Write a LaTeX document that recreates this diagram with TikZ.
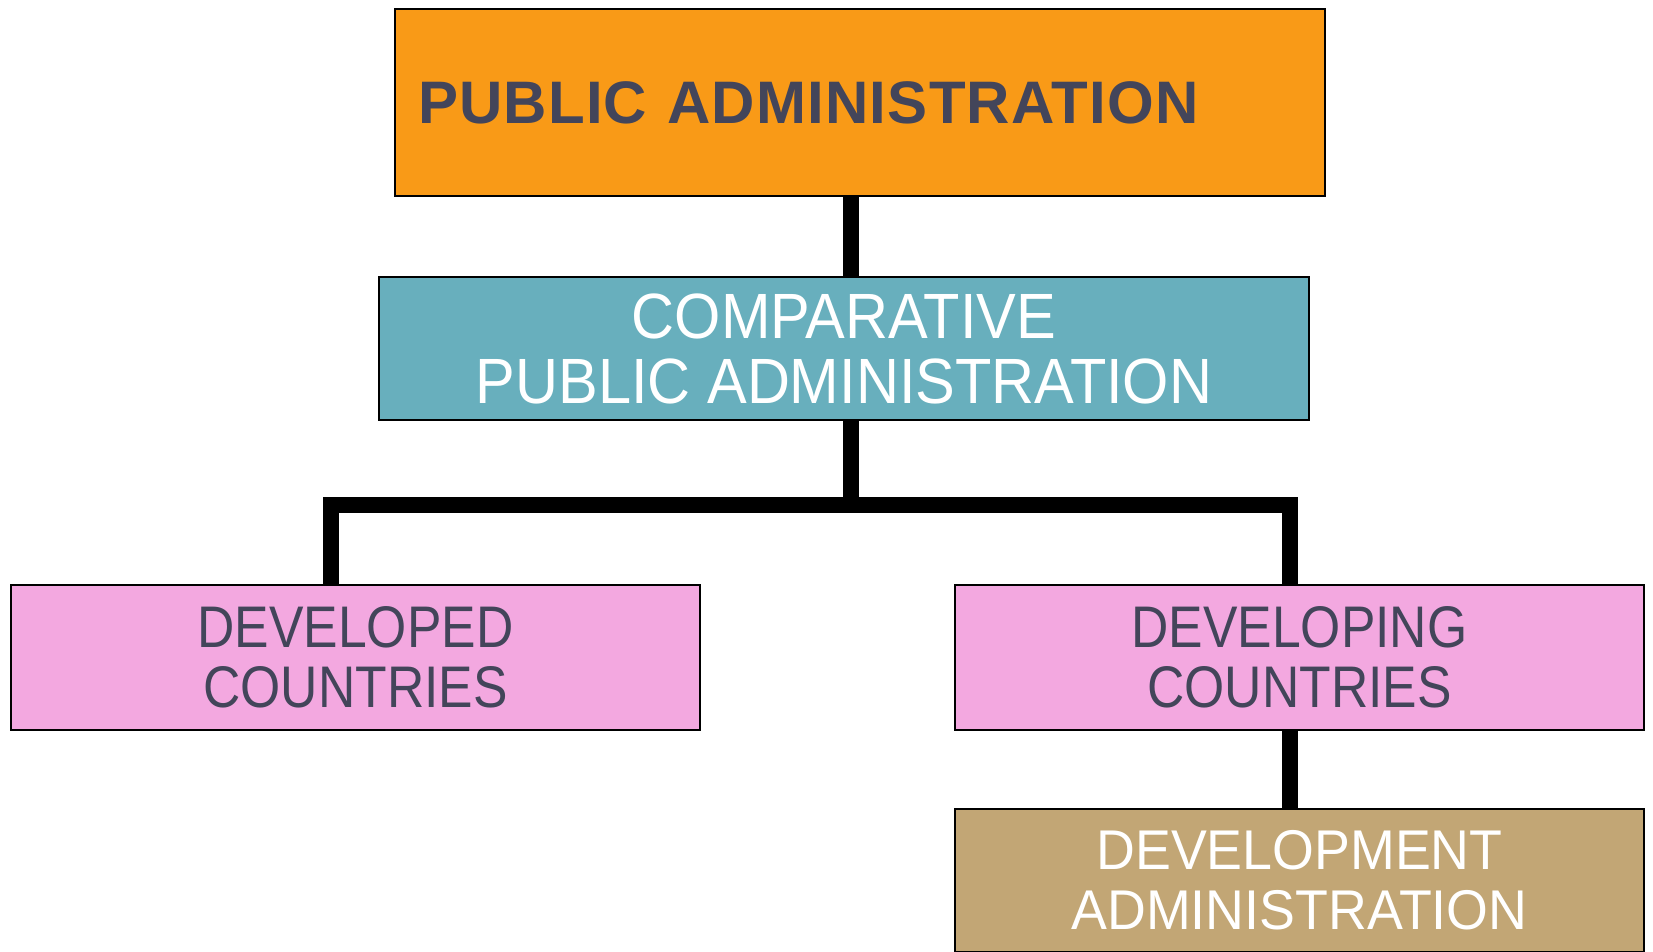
\documentclass[tikz,border=0pt]{standalone}
\usepackage{fontspec}
\setmainfont{Liberation Sans}
\newfontfamily\topsans[LetterSpace=2]{Liberation Sans}
\newfontfamily\narrowsans[FakeStretch=0.88]{Liberation Sans}
\newfontfamily\midsans[FakeStretch=0.93]{Liberation Sans}
\newfontfamily\lowsans[FakeStretch=0.96]{Liberation Sans}
\usetikzlibrary{calc}
\definecolor{paorange}{HTML}{F99A17}
\definecolor{pateal}{HTML}{68AFBD}
\definecolor{papink}{HTML}{F3A8E0}
\definecolor{patan}{HTML}{C2A675}
\definecolor{patext}{HTML}{43455A}
\tikzset{
	box/.style={draw=black, line width=2pt, rectangle, inner sep=0pt, align=center, anchor=north west},
	link/.style={line width=16pt, line join=miter, draw=black},
}

\begin{document}
\begin{tikzpicture}[x=1pt, y=-1pt]
				\useasboundingbox (0,0) rectangle (1653,952);
				
				% boxes
				\node[box, fill=paorange, text=patext, align=left, inner xsep=23pt, text width=884pt, minimum height=187pt, font=\topsans\bfseries\fontsize{60}{62}\selectfont] (pubadm) at (394,8) {PUBLIC ADMINISTRATION};
				\node[box, fill=pateal, text=white, minimum width=930pt, minimum height=143pt, font=\midsans\fontsize{64}{65}\selectfont] (compadm) at (378,276) {COMPARATIVE\\PUBLIC ADMINISTRATION};
				\node[box, fill=papink, text=patext, minimum width=689pt, minimum height=145pt, font=\narrowsans\fontsize{58.7}{60}\selectfont] (developed) at (10,584) {DEVELOPED\\COUNTRIES};
				\node[box, fill=papink, text=patext, minimum width=689pt, minimum height=145pt, font=\narrowsans\fontsize{58.7}{60}\selectfont] (developing) at (954,584) {DEVELOPING\\COUNTRIES};
				\node[box, fill=patan, text=white, minimum width=689pt, minimum height=143pt, font=\lowsans\fontsize{56}{60}\selectfont] (devadm) at (954,808) {DEVELOPMENT\\ADMINISTRATION};
				
				% connectors
				\coordinate (hub) at (851,505);
				\coordinate (ljoin) at (331,505);
				\coordinate (rjoin) at (1290,505);
				\draw[link] (hub |- pubadm.south) -- (hub |- compadm.north);
				\draw[link] (hub |- compadm.south) -- (hub);
				\draw[link] (ljoin |- developed.north) -- (ljoin) -- (rjoin) -- (rjoin |- developing.north);
				\draw[link] (rjoin |- developing.south) -- (rjoin |- devadm.north);
\end{tikzpicture}
\end{document}
